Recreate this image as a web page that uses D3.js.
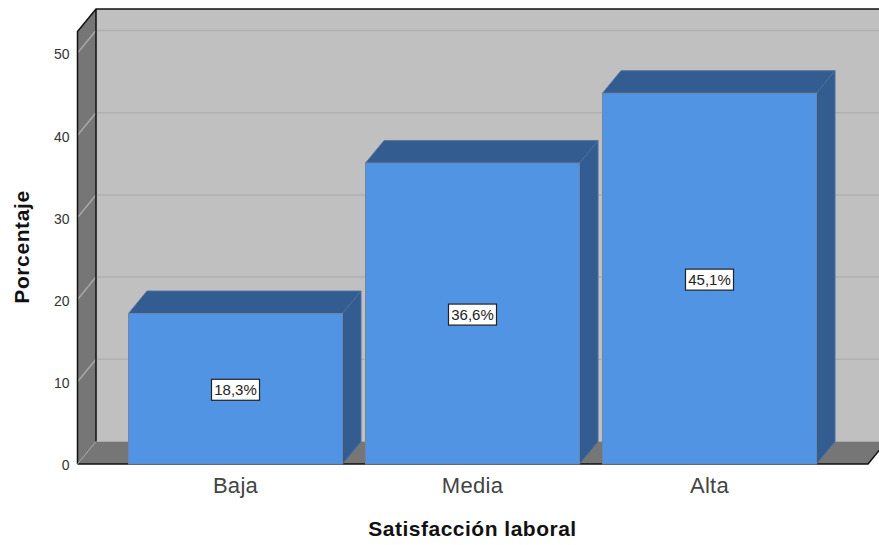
<!DOCTYPE html>
<html><head><meta charset="utf-8">
<script src="https://cdnjs.cloudflare.com/ajax/libs/d3/7.8.5/d3.min.js"></script>
<style>html,body{margin:0;background:#fff}svg{display:block}text{font-family:"Liberation Sans",Arial,sans-serif}</style>
</head><body><svg id="c" width="879" height="545"></svg>
<script>
const categories = ["Baja","Media","Alta"];
const values = [18.3,36.6,45.1];
const valueLabels = ["18,3%","36,6%","45,1%"];
const yTicks = [0,10,20,30,40,50];
const xTitle = "Satisfacción laboral";
const yTitle = "Porcentaje";

const W=879,H=545,dx=18.5,dy=22.5;
const left=77.5,right=868,y0=464;
const svg=d3.select("#c");
const y=d3.scaleLinear().domain([0,50]).range([y0,53]);
const yTop=31.5;
const x=d3.scaleBand().domain(categories).range([104.8,840.2]).paddingInner(0.097).paddingOuter(0.1);
const poly=(pts,fill,stroke,sw)=>svg.append("polygon").attr("points",pts.map(p=>p.join(",")).join(" ")).attr("fill",fill).attr("stroke",stroke||"none").attr("stroke-width",sw||0).attr("stroke-linejoin","round");

// back wall
poly([[left+dx,yTop-dy],[right+dx,yTop-dy],[right+dx,y0-dy],[left+dx,y0-dy]],"#c0c0c0");
// left wall
poly([[left,yTop],[left+dx,yTop-dy],[left+dx,y0-dy],[left,y0]],"#767676");
// floor
poly([[left,y0],[left+dx,y0-dy],[right+dx,y0-dy],[right,y0]],"#767676");
// gridlines
yTicks.slice(1).forEach(t=>{
  svg.append("line").attr("x1",left+dx).attr("x2",W).attr("y1",y(t)-dy).attr("y2",y(t)-dy).attr("stroke","#b0b0b0").attr("stroke-width",1.5);
  svg.append("line").attr("x1",left).attr("x2",left+dx).attr("y1",y(t)).attr("y2",y(t)-dy).attr("stroke","#a8a8a8").attr("stroke-width",1.5);
});
// frame lines
const frame=(p,c,w)=>svg.append("path").attr("d",d3.line()(p)).attr("fill","none").attr("stroke",c||"#111").attr("stroke-width",w||1.5);
frame([[left,y0],[left,yTop],[left+dx,yTop-dy],[W,yTop-dy]]);
frame([[left+dx,yTop-dy],[left+dx,y0-dy]]);
frame([[left,y0],[right,y0],[right+dx,y0-dy]]);
frame([[left,y0],[left+dx,y0-dy]],"#a8a8a8",1);

// bars
categories.forEach((c,i)=>{
  const bx=x(c),bw=x.bandwidth(),by=y(values[i]);
  poly([[bx,by],[bx+dx,by-dy],[bx+bw+dx,by-dy],[bx+bw,by]],"#335c90","#4d6f9c",1);
  poly([[bx+bw,by],[bx+bw+dx,by-dy],[bx+bw+dx,y0-dy],[bx+bw,y0]],"#335c90","#4d6f9c",1);
  svg.append("rect").attr("x",bx).attr("y",by).attr("width",bw).attr("height",y0-by).attr("fill","#5294e4").attr("stroke","#6b87ab").attr("stroke-width",1);
  const cx=bx+bw/2,cy=(by+y0)/2+1;
  svg.append("rect").attr("x",cx-24).attr("y",cy-10.5).attr("width",48).attr("height",21).attr("fill","#fff").attr("stroke","#222").attr("stroke-width",1.2);
  svg.append("text").attr("x",cx).attr("y",cy+5).attr("text-anchor","middle").attr("font-size",15).attr("fill","#222").text(valueLabels[i]);
  svg.append("text").attr("x",cx).attr("y",492.5).attr("text-anchor","middle").attr("font-size",22).attr("letter-spacing",0.3).attr("fill","#444").text(c);
});
// y tick labels via axis
const axis=d3.axisLeft(y).tickValues(yTicks).tickSize(0).tickPadding(8);
const g=svg.append("g").attr("transform",`translate(${left},1.5)`).call(axis);
g.select(".domain").remove();
g.selectAll("text").attr("font-size",14).attr("fill","#333").style("font-family",'"Liberation Sans",Arial,sans-serif');

svg.append("text").attr("x",472.5).attr("y",536).attr("text-anchor","middle").attr("font-size",21).attr("letter-spacing",0.5).attr("font-weight","bold").attr("fill","#111").text(xTitle);
svg.append("text").attr("transform","translate(28.5,247) rotate(-90)").attr("text-anchor","middle").attr("font-size",21).attr("letter-spacing",0.6).attr("font-weight","bold").attr("fill","#111").text(yTitle);
</script></body></html>
